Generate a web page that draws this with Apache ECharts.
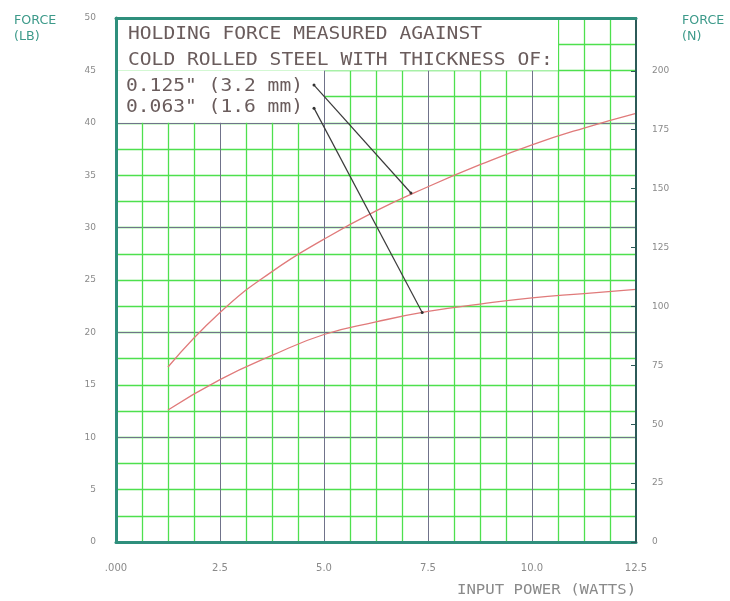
<!DOCTYPE html>
<html>
<head>
<meta charset="utf-8">
<script src="https://cdn.jsdelivr.net/npm/echarts@6/dist/echarts.min.js"></script>
<style>
html,body{margin:0;padding:0;background:#fff;}
#chart{width:730px;height:601px;}
</style>
</head>
<body>
<div id="chart"></div>
<script>
// ---- data ----
const powerWatts = [1.25, 2.5, 3.75, 5.0, 6.25, 7.5, 8.75, 10.0, 11.25, 12.5];
const force0125 = [16.7, 21.9, 25.8, 28.9, 31.6, 33.9, 36.0, 37.9, 39.5, 40.9];
const force0063 = [12.6, 15.5, 17.8, 19.8, 21.0, 22.0, 22.7, 23.3, 23.7, 24.1];
const xTickLabels = ['.000', '2.5', '5.0', '7.5', '10.0', '12.5'];
const lbTicks = [0, 5, 10, 15, 20, 25, 30, 35, 40, 45, 50];
const nTicks = [0, 25, 50, 75, 100, 125, 150, 175, 200];
const LB_TO_N = 4.44822;
// leader lines: [label anchor] -> [point on curve] (data units W, lb)
const leader0125 = [[4.76, 43.6], [7.09, 33.3]];
const leader0063 = [[4.76, 41.4], [7.36, 21.9]];
const noteLines = ['HOLDING FORCE MEASURED AGAINST', 'COLD ROLLED STEEL WITH THICKNESS OF:', '0.125" (3.2 mm)', '0.063" (1.6 mm)'];

const chart = echarts.init(document.getElementById('chart'));
const teal = '#2f8f7c';
const green = '#4ee04e';
const gray = '#70738a';
const labelColor = '#8a8a8a';
const noteColor = '#6a5c5c';
const monoFont = '"DejaVu Sans Mono"';

const zip = (xs, ys) => xs.map((x, i) => [x, ys[i]]);

const noteText = (txt, x, y) => ({
  type: 'text', x: x, y: y, scaleX: 1.12, z: 100,
  style: {text: txt, fill: noteColor, font: '17.5px ' + monoFont, textVerticalAlign: 'top'}
});

const option = {
  backgroundColor: '#ffffff',
  animation: false,
  grid: {left: 116, right: 94, top: 18, bottom: 59, show: false},
  xAxis: [
    {
      type: 'value', min: 0, max: 12.5, interval: 2.5, position: 'bottom',
      axisLine: {show: true, onZero: false, lineStyle: {color: teal, width: 3}},
      axisTick: {show: false},
      axisLabel: {
        color: labelColor, fontSize: 10, fontFamily: 'DejaVu Sans', margin: 21,
        formatter: v => xTickLabels[Math.round(v / 2.5)] || ''
      },
      splitLine: {show: true, lineStyle: {color: gray, width: 1}},
      minorTick: {show: false, splitNumber: 4},
      minorSplitLine: {show: true, lineStyle: {color: green, width: 1.3}}
    },
    {
      type: 'value', min: 0, max: 12.5, position: 'top', z: 10,
      axisLine: {show: true, onZero: false, lineStyle: {color: teal, width: 3}},
      axisTick: {show: false}, axisLabel: {show: false}, splitLine: {show: false}
    }
  ],
  yAxis: [
    {
      type: 'value', min: 0, max: 50, interval: 5, position: 'left',
      axisLine: {show: false, onZero: false}, axisTick: {show: false},
      axisLabel: {color: labelColor, fontSize: 9, fontFamily: 'DejaVu Sans', margin: 20,
        formatter: v => lbTicks.includes(v) ? String(v) : ''},
      splitLine: {show: true, lineStyle: {color: green, width: 1.3}},
      minorTick: {show: false, splitNumber: 2},
      minorSplitLine: {show: true, lineStyle: {color: green, width: 1.3}}
    },
    {
      type: 'value', min: 0, max: 50 * LB_TO_N, interval: 25, position: 'right', z: 10,
      axisLine: {show: true, onZero: false, lineStyle: {color: '#2c5a58', width: 2}},
      axisTick: {show: true, inside: false, length: -5, lineStyle: {color: '#2c5a58'}},
      axisLabel: {color: labelColor, fontSize: 9, fontFamily: 'DejaVu Sans', margin: 16,
        showMaxLabel: false,
        formatter: v => nTicks.includes(Math.round(v * 1000) / 1000) ? String(v) : ''},
      splitLine: {show: false}
    },
    {
      type: 'value', min: 0, max: 50, interval: 10, position: 'left',
      axisLine: {show: false, onZero: false}, axisTick: {show: false}, axisLabel: {show: false},
      splitLine: {show: true, lineStyle: {color: gray, width: 1}}
    },
    {
      type: 'value', min: 0, max: 50, position: 'left', z: 10,
      axisLine: {show: true, onZero: false, lineStyle: {color: teal, width: 3}},
      axisTick: {show: false}, axisLabel: {show: false}, splitLine: {show: false}
    }
  ],
  series: [
    {
      name: '0.125', type: 'line', smooth: true, symbol: 'none',
      xAxisIndex: 0, yAxisIndex: 0,
      data: zip(powerWatts, force0125),
      lineStyle: {color: '#e07a7a', width: 1.3},
      markArea: {
        silent: true,
        itemStyle: {color: '#ffffff', opacity: 1},
        data: [
          [{xAxis: 0, yAxis: 45}, {xAxis: 10.625, yAxis: 50}],
          [{xAxis: 0, yAxis: 40}, {xAxis: 5.0, yAxis: 45}]
        ]
      }
    },
    {
      name: '0.063', type: 'line', smooth: true, symbol: 'none',
      xAxisIndex: 0, yAxisIndex: 0,
      data: zip(powerWatts, force0063),
      lineStyle: {color: '#e07a7a', width: 1.3}
    },
    {
      name: 'leader1', type: 'line', symbol: 'circle', symbolSize: 3,
      xAxisIndex: 0, yAxisIndex: 0, z: 5,
      data: leader0125,
      itemStyle: {color: '#333'},
      lineStyle: {color: '#3a3a3a', width: 1.2}
    },
    {
      name: 'leader2', type: 'line', symbol: 'circle', symbolSize: 3,
      xAxisIndex: 0, yAxisIndex: 0, z: 5,
      data: leader0063,
      itemStyle: {color: '#333'},
      lineStyle: {color: '#3a3a3a', width: 1.2}
    }
  ],
  graphic: [
    noteText(noteLines[0], 128, 25),
    noteText(noteLines[1], 128, 51),
    noteText(noteLines[2], 126, 77),
    noteText(noteLines[3], 126, 98),
    {type: 'text', x: 14, y: 13, scaleX: 1.1, style: {text: 'FORCE\n(LB)', fill: '#3d9a8a', font: '11.5px "DejaVu Sans"', lineHeight: 16, textVerticalAlign: 'top'}},
    {type: 'text', x: 682, y: 13, scaleX: 1.1, style: {text: 'FORCE\n(N)', fill: '#3d9a8a', font: '11.5px "DejaVu Sans"', lineHeight: 16, textVerticalAlign: 'top'}},
    {type: 'text', x: 457, y: 583, scaleX: 1.16, style: {text: 'INPUT POWER (WATTS)', fill: labelColor, font: '13.5px ' + monoFont, textVerticalAlign: 'top'}}
  ]
};
chart.setOption(option);
</script>
</body>
</html>
